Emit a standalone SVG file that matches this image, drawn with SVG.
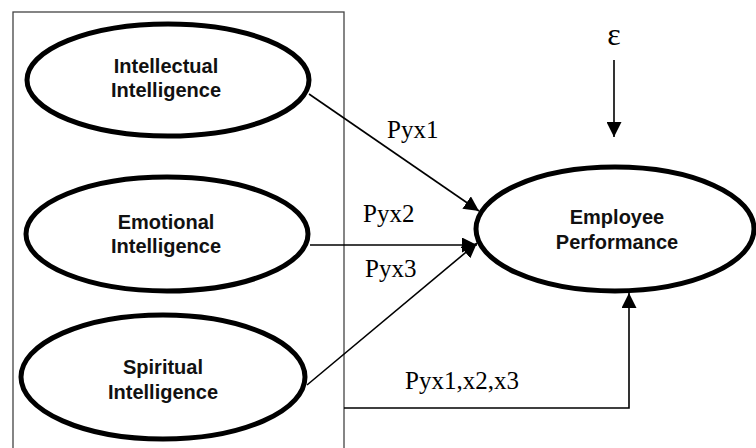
<svg xmlns="http://www.w3.org/2000/svg" width="756" height="448" viewBox="0 0 756 448">
<defs>
<marker id="ah" markerUnits="userSpaceOnUse" markerWidth="15" markerHeight="15" refX="15" refY="7.5" orient="auto" viewBox="0 0 15 15">
<path d="M0,0 L15,7.5 L0,15 z" fill="#000"/>
</marker>
<style>
.node{fill:#fff;stroke:#000;stroke-width:5}
.lbl{font-family:"Liberation Sans",Arial,sans-serif;font-weight:bold;font-size:20px;text-anchor:middle;fill:#111}
.coef{font-family:"Liberation Serif","Times New Roman",serif;font-size:25px;fill:#000}
.con{stroke:#000;stroke-width:1.6;fill:none}
</style>
</defs>
<rect width="756" height="448" fill="#fff"/>
<rect id="box" x="13" y="12" width="331" height="450" fill="none" stroke="#444" stroke-width="1.3"/>
<g id="connectors">
<line class="con" x1="309" y1="94" x2="479" y2="211" marker-end="url(#ah)"/>
<line class="con" x1="310" y1="245" x2="477" y2="245" marker-end="url(#ah)"/>
<line class="con" x1="307" y1="385" x2="477" y2="243" marker-end="url(#ah)"/>
<polyline class="con" points="344,408 629,408 629,293" marker-end="url(#ah)"/>
<line class="con" x1="614" y1="60" x2="614" y2="137" marker-end="url(#ah)"/>
</g>
<g id="intellectual">
<ellipse class="node" cx="168" cy="80" rx="141" ry="56"/>
<text class="lbl" x="166" y="73">Intellectual</text>
<text class="lbl" x="166" y="97">Intelligence</text>
</g>
<g id="emotional">
<ellipse class="node" cx="167" cy="234" rx="141" ry="57"/>
<text class="lbl" x="166" y="229">Emotional</text>
<text class="lbl" x="166" y="253">Intelligence</text>
</g>
<g id="spiritual">
<ellipse class="node" cx="163" cy="377" rx="142" ry="62"/>
<text class="lbl" x="163" y="374">Spiritual</text>
<text class="lbl" x="163" y="399">Intelligence</text>
</g>
<g id="performance">
<ellipse class="node" cx="615" cy="229" rx="139" ry="62"/>
<text class="lbl" x="617" y="224">Employee</text>
<text class="lbl" x="617" y="249">Performance</text>
</g>
<g id="labels">
<text class="coef" x="387" y="138">Pyx1</text>
<text class="coef" x="363" y="222">Pyx2</text>
<text class="coef" x="365" y="277">Pyx3</text>
<text class="coef" x="405" y="389">Pyx1,x2,x3</text>
<text id="epsilon" x="614" y="45" font-family="'Liberation Serif','Times New Roman',serif" font-size="32" text-anchor="middle">ε</text>
</g>
</svg>
